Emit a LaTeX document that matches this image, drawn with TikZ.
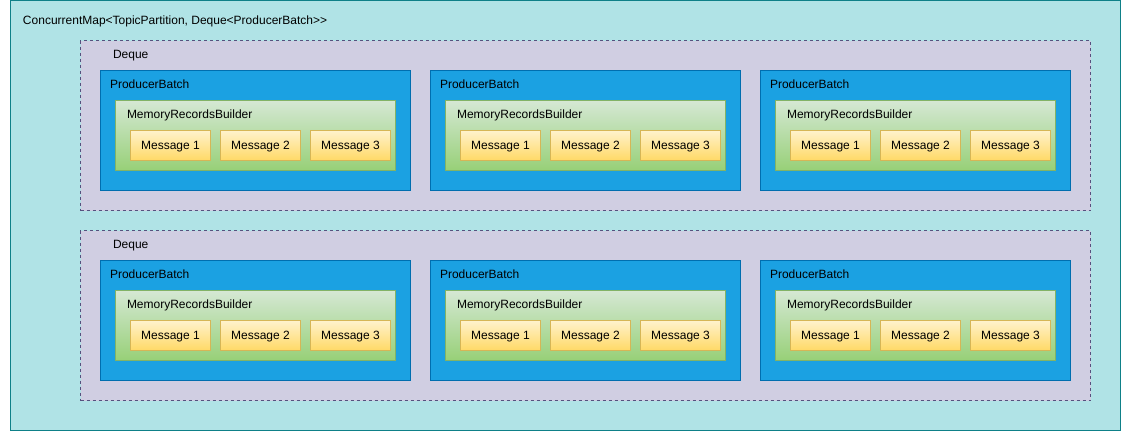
\documentclass[tikz,border=0pt]{standalone}
\usepackage{fontspec}
\setmainfont{Liberation Sans}
\definecolor{mapfill}{HTML}{B0E3E6}
\definecolor{mapdraw}{HTML}{0E8088}
\definecolor{dqfill}{HTML}{D0CEE2}
\definecolor{dqdraw}{HTML}{56517E}
\definecolor{pbfill}{HTML}{1BA1E2}
\definecolor{pbdraw}{HTML}{006EAF}
\definecolor{mrtop}{HTML}{D5E8D4}
\definecolor{mrbot}{HTML}{97D077}
\definecolor{mrdraw}{HTML}{82B366}
\definecolor{msgtop}{HTML}{FFF2CC}
\definecolor{msgbot}{HTML}{FFD966}
\definecolor{msgdraw}{HTML}{D6B656}
\begin{document}
\begin{tikzpicture}[x=1pt,y=-1pt,
  every node/.style={font=\fontsize{12}{14}\selectfont, inner sep=0pt, outer sep=0pt},
  box/.style={rectangle, anchor=north west, line width=1pt},
  mapbox/.style={box, fill=mapfill, draw=mapdraw, minimum width=1110pt, minimum height=430pt},
  dqbox/.style={box, fill=dqfill, draw=dqdraw, dash pattern=on 3pt off 3pt, minimum width=1010pt, minimum height=170pt},
  pbbox/.style={box, fill=pbfill, draw=pbdraw, minimum width=310pt, minimum height=120pt},
  mrbox/.style={box, top color=mrtop, bottom color=mrbot, draw=mrdraw, minimum width=280pt, minimum height=70pt},
  msgbox/.style={box, top color=msgtop, bottom color=msgbot, draw=msgdraw, minimum width=80pt, minimum height=30pt},
  lbl/.style={anchor=base west},
  msglbl/.style={anchor=base}
]
\useasboundingbox (0,0) rectangle (1121,431);
\node[mapbox] (map) at (10.5,0.5) {};
\node[lbl] (maplbl) at (23,24.5) {ConcurrentMap<TopicPartition, Deque<ProducerBatch>{}>};
\foreach \r in {0,1} {
  \node[dqbox] (dq\r) at (80.5,{40.5+190*\r}) {};
  \node[lbl] (dql\r) at (113,{58.5+190*\r}) {Deque};
  \foreach \c in {0,1,2} {
    \node[pbbox] (pb\r\c) at ({100.5+330*\c},{70.5+190*\r}) {};
    \node[lbl] (pbl\r\c) at ({110+330*\c},{88.5+190*\r}) {ProducerBatch};
    \node[mrbox] (mr\r\c) at ({115.5+330*\c},{100.5+190*\r}) {};
    \node[lbl] (mrl\r\c) at ({127+330*\c},{118.5+190*\r}) {MemoryRecordsBuilder};
    \foreach \m in {1,2,3} {
      \node[msgbox] (msg\r\c\m) at ({130.5+330*\c+90*(\m-1)},{130.5+190*\r}) {};
      \node[msglbl] (msgl\r\c\m) at ({170.5+330*\c+90*(\m-1)},{149.3+190*\r}) {Message \m};
    }
  }
}
\end{tikzpicture}
\end{document}
